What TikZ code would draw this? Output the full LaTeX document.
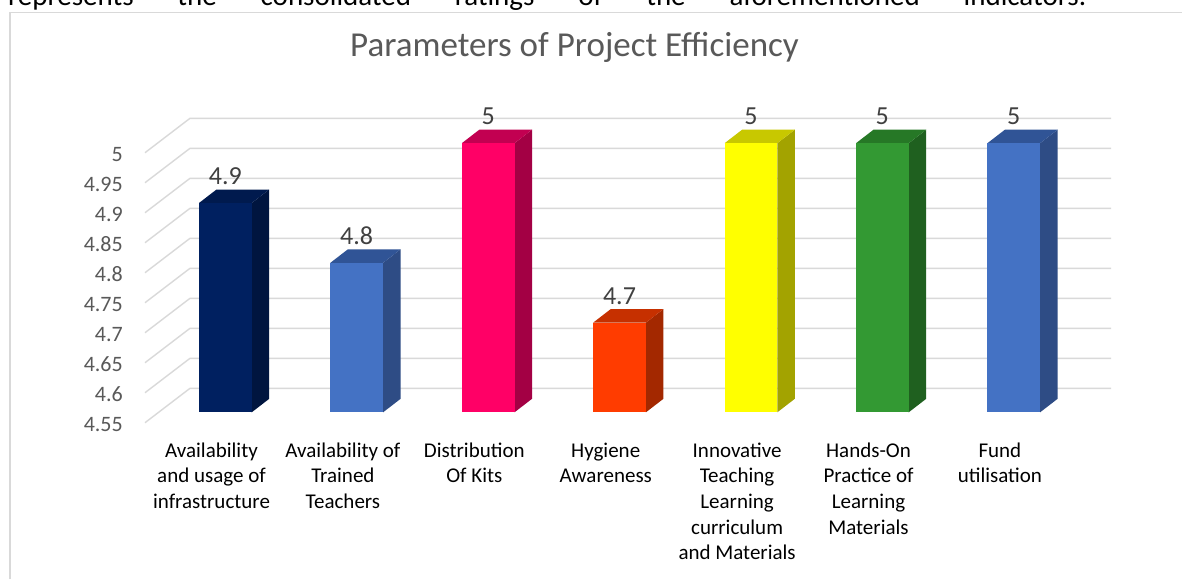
\documentclass[tikz,border=0pt]{standalone}
\usepackage{fontspec}
\usetikzlibrary{calc}
\setmainfont{Carlito}
\definecolor{gridgray}{HTML}{D9D9D9}
\definecolor{framegray}{HTML}{D9D9D9}
\definecolor{axisgray}{HTML}{595959}
\definecolor{valgray}{HTML}{404040}
\definecolor{cAf}{HTML}{002060}\definecolor{cAs}{HTML}{00153F}\definecolor{cAt}{HTML}{001A4E}
\definecolor{cBf}{HTML}{4472C4}\definecolor{cBs}{HTML}{2E4C85}\definecolor{cBt}{HTML}{305496}
\definecolor{cCf}{HTML}{FF0066}\definecolor{cCs}{HTML}{A30044}\definecolor{cCt}{HTML}{C20051}
\definecolor{cDf}{HTML}{FF3C00}\definecolor{cDs}{HTML}{A32800}\definecolor{cDt}{HTML}{C63000}
\definecolor{cEf}{HTML}{FFFF00}\definecolor{cEs}{HTML}{A3A300}\definecolor{cEt}{HTML}{C8C800}
\definecolor{cFf}{HTML}{339933}\definecolor{cFs}{HTML}{1F601F}\definecolor{cFt}{HTML}{267826}
\begin{document}
\begin{tikzpicture}[x=1pt,y=-1pt,
  gridline/.style={draw=gridgray,line width=1.4pt},
  axislabel/.style={anchor=base east,inner sep=0pt,text=axisgray,font=\fontsize{22}{26}\selectfont},
  vallabel/.style={anchor=base,inner sep=0pt,text=valgray,font=\fontsize{26}{30}\selectfont},
  catlabel/.style={anchor=base,inner sep=0pt,align=center,text=black,font=\fontsize{21}{25.7}\selectfont},
  titlelabel/.style={anchor=base west,inner sep=0pt,text=axisgray,font=\fontsize{35}{40}\selectfont}]
\useasboundingbox (0,0) rectangle (1182,579);
\fill[white] (0,0) rectangle (1182,579);
\begin{scope}
\clip (0,0) rectangle (1182,579);
\node[anchor=base west,inner sep=0pt,font=\fontsize{29}{33}\selectfont] (intro) at (8,5)
  {\makebox[1078pt][s]{represents the consolidated ratings of the aforementioned indicators.}};
\end{scope}
% frame
\draw[framegray,line width=1.6pt] (10,579) -- (10,12.5) -- (1182,12.5);
% title
\node[titlelabel] (title) at (350,56.5) {Parameters of Project Efficiency};
% grid
\foreach \i/\lab in {0/5,1/4.95,2/4.9,3/4.85,4/4.8,5/4.75,6/4.7,7/4.65,8/4.6,9/4.55}{
  \pgfmathsetmacro\yb{118.3+30*\i}
  \pgfmathsetmacro\yf{152.7+30*\i}
  \coordinate (gf\i) at (145,\yf);
  \coordinate (gb\i) at (190,\yb);
  \coordinate (ge\i) at (1111,\yb);
  \draw[gridline] (gf\i) -- (gb\i) -- (ge\i);
  \node[axislabel] (ax\i) at (123,\yf+9) {\lab};
}
% bars
\foreach \k/\v/\cf/\cs/\ct/\vl in {0/4.9/cAf/cAs/cAt/4.9,1/4.8/cBf/cBs/cBt/4.8,2/5/cCf/cCs/cCt/5,3/4.7/cDf/cDs/cDt/4.7,4/5/cEf/cEs/cEt/5,5/5/cFf/cFs/cFt/5,6/5/cBf/cBs/cBt/5}{
  \pgfmathsetmacro\xl{199+131.4*\k}
  \pgfmathsetmacro\xr{\xl+52.7}
  \pgfmathsetmacro\yt{412.3-(\v-4.55)*598}
  \coordinate (bl\k) at (\xl,412.3);
  \coordinate (br\k) at (\xr,412.3);
  \coordinate (tl\k) at (\xl,\yt);
  \coordinate (tr\k) at (\xr,\yt);
  \fill[\cs] (br\k) -- (tr\k) -- ++(17.5,-13.5) -- ($(br\k)+(17.5,-13.5)$) -- cycle;
  \fill[\ct] (tl\k) -- (tr\k) -- ++(17.5,-13.5) -- ($(tl\k)+(17.5,-13.5)$) -- cycle;
  \fill[\cf] (bl\k) rectangle (tr\k);
  \node[vallabel] (val\k) at (\xl+26.3,\yt-18.5) {\vl};
}
% category labels (anchor base = last line)
\node[catlabel] (cat0) at (211.5,508.4) {Availability\\and usage of\\infrastructure};
\node[catlabel] (cat1) at (342.9,508.4) {Availability of\\Trained\\Teachers};
\node[catlabel] (cat2) at (474.3,482.7) {Distribution\\Of Kits};
\node[catlabel] (cat3) at (605.7,482.7) {Hygiene\\Awareness};
\node[catlabel] (cat4) at (737.1,559.8) {Innovative\\Teaching\\Learning\\curriculum\\and Materials};
\node[catlabel] (cat5) at (868.5,534.1) {Hands-On\\Practice of\\Learning\\Materials};
\node[catlabel] (cat6) at (999.9,482.7) {Fund\\utilisation};
\end{tikzpicture}
\end{document}
